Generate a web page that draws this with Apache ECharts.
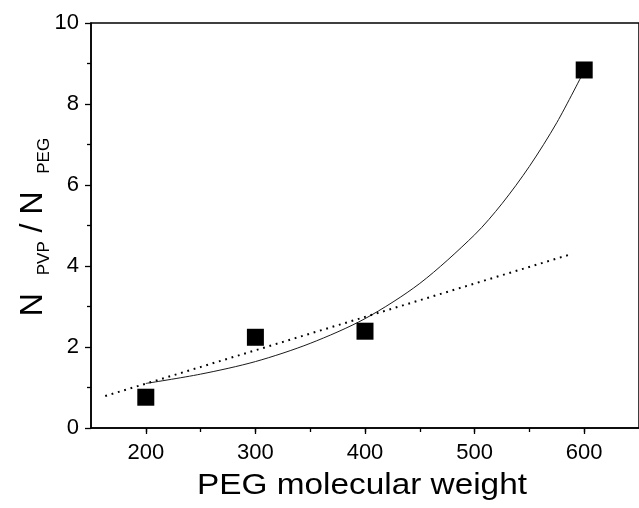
<!DOCTYPE html>
<html>
<head>
<meta charset="utf-8">
<script src="https://cdn.jsdelivr.net/npm/echarts@6/dist/echarts.min.js"></script>
<style>html,body{margin:0;padding:0;background:#fff}#c{width:639px;height:508px}</style>
</head>
<body>
<div id="c"></div>
<script>
// Measured data (squares)
var pegMW = [200, 300, 400, 600];
var ratio = [0.76, 2.24, 2.39, 8.84];
// Solid fitted curve
var curveX = [200, 250, 300, 350, 400, 450, 500, 525, 550, 575, 600];
var curveY = [1.10, 1.33, 1.64, 2.09, 2.70, 3.57, 4.77, 5.54, 6.46, 7.54, 8.82];
// Dotted straight line
var dotX = [163, 589];
var dotY = [0.79, 4.30];
// Tick labels
var xTickLabels = [200, 300, 400, 500, 600];
var xMinorTicks = [200, 250, 300, 350, 400, 450, 500, 550, 600];
var yTickLabels = [0, 2, 4, 6, 8, 10];

var FONT = "'Liberation Sans', Arial, Helvetica, sans-serif";
var chart = echarts.init(document.getElementById('c'), null, {renderer: 'canvas'});

function pairs(xs, ys) { return xs.map(function (x, i) { return [x, ys[i]]; }); }

chart.setOption({
  animation: false,
  backgroundColor: '#fff',
  grid: {left: 91, top: 23, right: -2, bottom: 80, show: true, borderColor: '#000', borderWidth: 1.5, backgroundColor: 'transparent'},
  xAxis: [{
    type: 'value', min: 150, max: 650, interval: 50,
    splitLine: {show: false},
    axisLine: {show: true, onZero: false, lineStyle: {color: '#000', width: 1.5}},
    axisTick: {show: true, length: 4, customValues: xMinorTicks, lineStyle: {color: '#000', width: 1.3}},
    axisLabel: {show: true, customValues: xTickLabels, margin: 14, color: '#000', fontSize: 22, fontFamily: FONT}
  }, {
    type: 'value', min: 150, max: 650, interval: 50, position: 'bottom',
    splitLine: {show: false},
    axisLine: {show: false},
    axisTick: {show: true, length: 6, customValues: xTickLabels, lineStyle: {color: '#000', width: 1.3}},
    axisLabel: {show: false}
  }],
  yAxis: {
    type: 'value', min: 0, max: 10, interval: 2,
    splitLine: {show: false},
    axisLine: {show: true, onZero: false, lineStyle: {color: '#000', width: 1.5}},
    axisTick: {show: true, length: 6, lineStyle: {color: '#000', width: 1.3}},
    minorTick: {show: true, splitNumber: 2, length: 4, lineStyle: {color: '#000', width: 1.3}},
    axisLabel: {margin: 12, color: '#000', fontSize: 22, fontFamily: FONT,
      formatter: function (v) { return yTickLabels.indexOf(v) >= 0 ? String(v) : ''; }}
  },
  series: [{
    type: 'line', data: pairs(curveX, curveY), smooth: 0.3, showSymbol: false,
    lineStyle: {color: '#1a1a1a', width: 1}, z: 2
  }, {
    type: 'line', data: pairs(dotX, dotY), showSymbol: false,
    lineStyle: {color: '#000', width: 2, type: [1.8, 4.8], cap: 'butt'}, z: 2
  }, {
    type: 'scatter', data: pairs(pegMW, ratio), symbol: 'rect', symbolSize: 17,
    itemStyle: {color: '#000', opacity: 1}, z: 3
  }],
  graphic: [{
    type: 'text', x: 362, y: 486, scaleX: 1.15,
    style: {text: 'PEG molecular weight', fontSize: 29, fontFamily: FONT, fill: '#000', align: 'center', verticalAlign: 'middle'}
  }, {
    type: 'text', x: 33, y: 227, rotation: Math.PI / 2,
    style: {
      text: '{n|N}{n|  }{s|PVP}{n| / N}{n|  }{s|PEG}',
      align: 'center', verticalAlign: 'middle', fill: '#000',
      rich: {
        n: {fontSize: 32, fontFamily: FONT, lineHeight: 40, fill: '#000', verticalAlign: 'middle'},
        s: {fontSize: 17, fontFamily: FONT, lineHeight: 8, fill: '#000', verticalAlign: 'bottom'}
      }
    }
  }]
});
</script>
</body>
</html>
